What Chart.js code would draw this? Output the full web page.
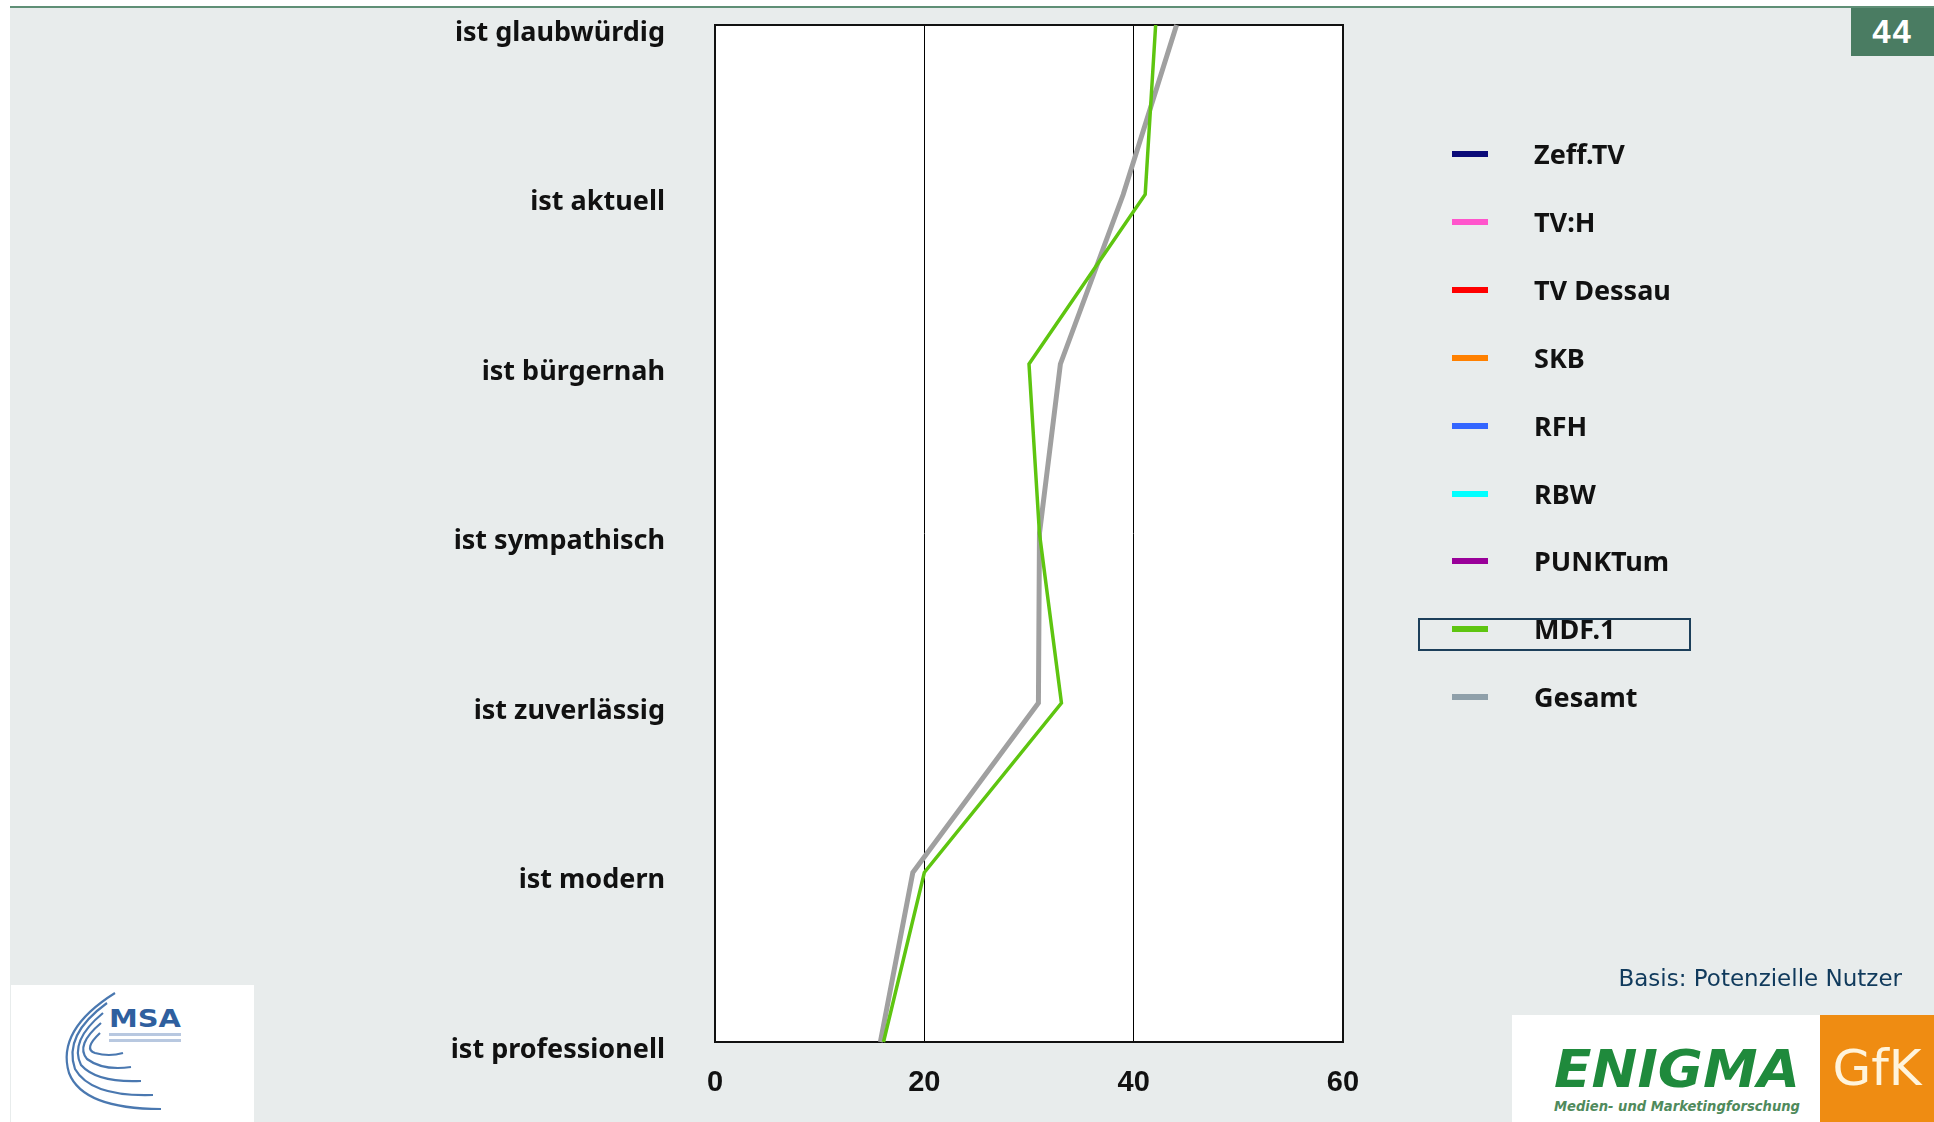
<!DOCTYPE html>
<html>
<head>
<meta charset="utf-8">
<script src="https://cdn.jsdelivr.net/npm/chart.js"></script>
<style>
  body{margin:0;width:1934px;height:1122px;overflow:hidden;background:#fff;position:relative;font-family:"Noto Sans",sans-serif}
  #bg{position:absolute;left:10px;top:8px;right:0;bottom:0;background:#e8ecec}
  #topline{position:absolute;left:10px;top:6px;right:0;height:2px;background:#5f8f76}
  #page{position:absolute;left:1851px;top:8px;width:83px;height:48px;background:#4a7c62;color:#fff;
        font:bold 33px "Liberation Sans",sans-serif;text-align:center;line-height:48px;letter-spacing:2px}
  #wrap{position:absolute;left:0;top:0;width:1934px;height:1122px}
  .lg{position:absolute;left:1452px;height:30px}
  .lg .sw{position:absolute;left:0;top:12px;width:36px;height:6px}
  .lg .tx{position:absolute;left:82px;top:0;white-space:nowrap;font:bold 27px "Noto Sans",sans-serif;color:#111;line-height:30px}
  #mdfbox{position:absolute;left:1418px;top:618px;width:269px;height:29px;border:2px solid #1c3f5a}
  #basis{position:absolute;right:32px;top:965px;font:23px "DejaVu Sans",sans-serif;color:#103a5c;white-space:nowrap}
  #msa{position:absolute;left:11px;top:985px;width:243px;height:137px;background:#fff}
  #enigma{position:absolute;left:1512px;top:1015px;width:308px;height:107px;background:#fff}
  #gfk{position:absolute;left:1820px;top:1015px;width:114px;height:107px;background:#ef8c12;color:#fff4dc;
       font:50px "DejaVu Sans",sans-serif;text-align:center;line-height:107px}
</style>
</head>
<body>
<div id="bg"></div>
<div id="topline"></div>
<div id="page">44</div>
<div id="wrap"><canvas id="myChart" width="1934" height="1122"></canvas></div>
<div id="legend"></div>
<div id="mdfbox"></div>
<div id="basis">Basis: Potenzielle Nutzer</div>
<div id="msa">
  <svg width="243" height="137" viewBox="0 0 243 137">
    <g fill="none" stroke="#4a78b0" stroke-width="2.2">
      <path d="M104 8 Q45 45 58 88 Q72 124 150 124"/>
      <path d="M96 18 Q52 50 64 84 Q80 112 142 110"/>
      <path d="M92 28 Q58 56 70 80 Q86 98 130 96"/>
      <path d="M90 38 Q64 60 76 74 Q92 86 120 82"/>
      <path d="M89 48 Q72 64 84 68 Q98 72 112 68"/>
    </g>
    <text x="98" y="42" font-family="DejaVu Sans" font-weight="bold" font-size="24" fill="#2f5f9e" textLength="72" lengthAdjust="spacingAndGlyphs">MSA</text>
    <rect x="98" y="48" width="72" height="3" fill="#b8c8e0"/>
    <rect x="98" y="54" width="72" height="3" fill="#b8c8e0"/>
  </svg>
</div>
<div id="enigma">
  <svg width="308" height="107" viewBox="0 0 308 107">
    <text x="42" y="72" font-family="DejaVu Sans" font-weight="bold" font-style="italic" font-size="52" fill="#1f8a3c" textLength="246" lengthAdjust="spacingAndGlyphs">ENIGMA</text>
    <text x="42" y="96" font-family="DejaVu Sans" font-weight="bold" font-style="italic" font-size="14" fill="#4f8a5c" textLength="246" lengthAdjust="spacingAndGlyphs">Medien- und Marketingforschung</text>
  </svg>
</div>
<div id="gfk">GfK</div>
<script>
const categories = ['ist glaubwürdig', 'ist aktuell', 'ist bürgernah', 'ist sympathisch', 'ist zuverlässig', 'ist modern', 'ist professionell'];
const mdf1 = [42.1, 41.1, 30.0, 31.0, 33.1, 20.0, 16.1];
const gesamt = [44.1, 39.0, 33.0, 31.0, 30.9, 18.9, 15.8];
const xTicks = [0, 20, 40, 60];
const legendNames = ['Zeff.TV', 'TV:H', 'TV Dessau', 'SKB', 'RFH', 'RBW', 'PUNKTum', 'MDF.1', 'Gesamt'];
const legendColors = ['#0a0a78', '#ff55cc', '#ff0000', '#ff8000', '#3366ff', '#00ffff', '#990099', '#5ec510', '#8fa0aa'];

// legend on the right
const lg = document.getElementById('legend');
legendNames.forEach((n, i) => {
  const d = document.createElement('div');
  d.className = 'lg';
  d.style.top = (139 + i * 67.9) + 'px';
  d.innerHTML = '<div class="sw" style="background:' + legendColors[i] + '"></div><div class="tx">' + n + '</div>';
  lg.appendChild(d);
});

const plotFrame = {
  id: 'plotFrame',
  beforeDraw(c) {
    const a = c.chartArea, ctx = c.ctx;
    ctx.save();
    ctx.fillStyle = '#fff';
    ctx.fillRect(a.left, a.top, a.right - a.left, a.bottom - a.top);
    ctx.restore();
  },
  beforeDatasetsDraw(c) {
    const a = c.chartArea, ctx = c.ctx;
    ctx.save();
    ctx.strokeStyle = '#111';
    ctx.lineWidth = 2;
    ctx.strokeRect(a.left, a.top, a.right - a.left, a.bottom - a.top);
    ctx.restore();
  }
};

new Chart(document.getElementById('myChart'), {
  type: 'line',
  data: {
    labels: categories,
    datasets: [
      {label: 'MDF.1', data: mdf1, borderColor: '#5ec510', backgroundColor: '#5ec510', borderWidth: 3.5, pointRadius: 0, tension: 0},
      {label: 'Gesamt', data: gesamt, borderColor: '#a0a0a0', backgroundColor: '#a0a0a0', borderWidth: 5, pointRadius: 0, tension: 0}
    ]
  },
  options: {
    indexAxis: 'y',
    responsive: false,
    animation: false,
    devicePixelRatio: 1,
    layout: {padding: {left: 0, top: 25, right: 591, bottom: 0}},
    plugins: {legend: {display: false}, tooltip: {enabled: false}},
    scales: {
      x: {
        type: 'linear',
        min: 0,
        max: 60,
        afterBuildTicks: s => { s.ticks = xTicks.map(v => ({value: v})); },
        afterFit: s => { s.height = 80; },
        border: {display: false},
        grid: {
          drawTicks: false,
          color: ctx => (ctx.tick && (ctx.tick.value === 20 || ctx.tick.value === 40)) ? '#000' : 'rgba(0,0,0,0)',
          lineWidth: 1
        },
        ticks: {color: '#111', padding: 24, font: {family: 'Liberation Sans', size: 29, weight: 'bold'}}
      },
      y: {
        type: 'category',
        offset: false,
        afterFit: s => { s.width = 715; s.paddingTop = 0; s.paddingBottom = 0; },
        border: {display: false},
        grid: {display: false, drawTicks: false},
        ticks: {color: '#111', padding: 50, labelOffset: 8, font: {family: 'Noto Sans', size: 27, weight: 'bold'}}
      }
    }
  },
  plugins: [plotFrame]
});
</script>
</body>
</html>
